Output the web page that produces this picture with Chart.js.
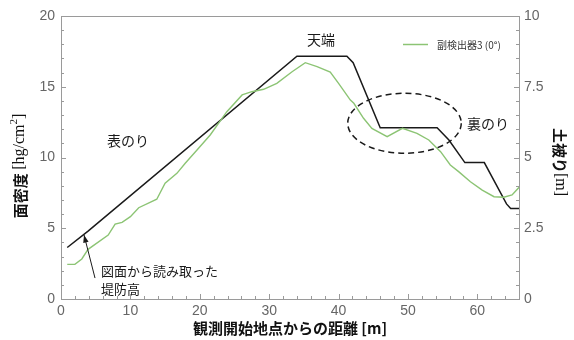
<!DOCTYPE html>
<html>
<head>
<meta charset="utf-8">
<script src="https://cdn.jsdelivr.net/npm/chart.js@4.4.1/dist/chart.umd.min.js"></script>
<style>
    html, body { margin: 0; padding: 0; background: #fff; }
    #chart { display: block; }
</style>
</head>
<body>
<canvas id="chart" width="574" height="340"></canvas>
<script>
// 副検出器3 (0°) : 面密度 [hg/cm2] vs 距離 [m]
const greenDist = [0.9, 2.0, 3.0, 3.9, 6.8, 7.8, 8.8, 10.0, 11.2, 13.8, 15.0, 16.7, 17.9, 19.6, 21.5, 23.9, 26.1, 27.5, 29.2, 31.1, 33.3, 35.2, 36.9, 38.8, 40.0, 41.7, 42.2, 43.6, 44.8, 47.0, 49.2, 51.3, 53.0, 54.7, 56.1, 57.3, 59.0, 60.7, 62.4, 63.8, 65.0, 66.1];
const greenDensity = [2.45, 2.45, 2.83, 3.51, 4.52, 5.30, 5.42, 5.82, 6.45, 7.05, 8.18, 8.88, 9.59, 10.53, 11.59, 13.24, 14.42, 14.65, 14.82, 15.24, 16.06, 16.70, 16.42, 16.04, 15.24, 14.06, 13.83, 12.77, 12.06, 11.47, 12.06, 11.71, 11.24, 10.41, 9.47, 9.00, 8.29, 7.70, 7.23, 7.19, 7.35, 7.94];

// 図面から読み取った堤防高 : 土被り [m]
const dikeDist = [0.9, 3.9, 34.0, 41.2, 42.1, 46.0, 54.2, 55.9, 58.2, 61.0, 64.2, 64.8, 66.1];
const dikeHeight = [1.82, 2.40, 8.58, 8.58, 8.35, 6.05, 6.05, 5.62, 4.82, 4.82, 3.36, 3.20, 3.20];

const xTicks = [0, 10, 20, 30, 40, 50, 60];
const yLeftTicks = [0, 5, 10, 15, 20];
const yRightTicks = [0, 2.5, 5, 7.5, 10];

const AXIS_COLOR = "#9a9a9a";
const TICK_COLOR = "#666";
const GREEN = "#8cc474";
const CJK = '"Noto Sans CJK JP"';

function drawParts(ctx, parts, cx, cy) {
    // draws a run of differently styled text pieces, centred on cx
    let total = 0;
    parts.forEach((p) => {
        ctx.font = p.font;
        p.w = ctx.measureText(p.t).width;
        total += p.w;
    });
    let x = cx - total / 2;
    ctx.textAlign = "left";
    ctx.textBaseline = "middle";
    parts.forEach((p) => {
        ctx.font = p.font;
        ctx.fillText(p.t, x, cy + (p.dy || 0));
        x += p.w;
    });
}

const decorations = {
    id: "decorations",
    afterDraw(chart) {
        const { ctx, chartArea: a, scales } = chart;
        const x = scales.x;
        const y = scales.y;
        const y1 = scales.y1;

        ctx.save();

        // frame top + inward ticks
        ctx.strokeStyle = AXIS_COLOR;
        ctx.lineWidth = 1;
        ctx.beginPath();
        ctx.moveTo(a.left, a.top + 0.5);
        ctx.lineTo(a.right, a.top + 0.5);
        for (let v = 0; v <= 66; v += 2) {
            const px = Math.round(x.getPixelForValue(v)) + 0.5;
            const len = v % 10 === 0 ? 5 : 3;
            ctx.moveTo(px, a.bottom);
            ctx.lineTo(px, a.bottom - len);
        }
        for (let v = 0; v <= 20; v += 1) {
            const py = Math.round(y.getPixelForValue(v)) + 0.5;
            const len = v % 5 === 0 ? 5 : 3;
            ctx.moveTo(a.left, py);
            ctx.lineTo(a.left + len, py);
        }
        for (let v = 0; v <= 10; v += 0.5) {
            const py = Math.round(y1.getPixelForValue(v)) + 0.5;
            const len = v % 2.5 === 0 ? 5 : 3;
            ctx.moveTo(a.right, py);
            ctx.lineTo(a.right - len, py);
        }
        ctx.stroke();

        // dashed ellipse round 裏のり
        const ex = x.getPixelForValue(49.5);
        const ey = y.getPixelForValue(12.42);
        const rx = x.getPixelForValue(49.5 + 8.18) - ex;
        const ry = y.getPixelForValue(12.42) - y.getPixelForValue(12.42 + 2.12);
        ctx.strokeStyle = "#1a1a1a";
        ctx.lineWidth = 1.5;
        ctx.setLineDash([6, 4]);
        ctx.beginPath();
        ctx.ellipse(ex, ey, rx, ry, 0, 0, Math.PI * 2);
        ctx.stroke();
        ctx.setLineDash([]);

        // arrow to the dike line
        const tipX = x.getPixelForValue(3.32);
        const tipY = y.getPixelForValue(4.52);
        const tailX = x.getPixelForValue(4.9);
        const tailY = y.getPixelForValue(1.48);
        ctx.lineWidth = 1;
        ctx.beginPath();
        ctx.moveTo(tailX, tailY);
        ctx.lineTo(tipX, tipY);
        ctx.stroke();
        const ang = Math.atan2(tipY - tailY, tipX - tailX);
        ctx.fillStyle = "#1a1a1a";
        ctx.beginPath();
        ctx.moveTo(tipX, tipY);
        ctx.lineTo(tipX - 8 * Math.cos(ang - 0.35), tipY - 8 * Math.sin(ang - 0.35));
        ctx.lineTo(tipX - 8 * Math.cos(ang + 0.35), tipY - 8 * Math.sin(ang + 0.35));
        ctx.closePath();
        ctx.fill();

        // annotations
        ctx.fillStyle = "#1a1a1a";
        ctx.textBaseline = "middle";
        ctx.textAlign = "left";
        ctx.font = `13px ${CJK}`;
        ctx.fillText("図面から読み取った", 101, 271);
        ctx.fillText("堤防高", 101, 289);

        ctx.font = `14px ${CJK}`;
        ctx.fillText("表のり", 107, 141);
        ctx.fillText("天端", 307, 40);
        ctx.fillText("裏のり", 467, 124);

        // legend
        ctx.strokeStyle = GREEN;
        ctx.lineWidth = 1.5;
        ctx.beginPath();
        ctx.moveTo(403, 44.5);
        ctx.lineTo(428, 44.5);
        ctx.stroke();
        ctx.fillStyle = "#333";
        ctx.font = `10px ${CJK}`;
        ctx.fillText("副検出器3 (0°)", 437, 45);

        // axis titles
        ctx.fillStyle = "#111";
        drawParts(ctx, [
            { t: "観測開始地点からの距離 [m]", font: `bold 15px ${CJK}` },
        ], 290, 328);

        ctx.save();
        ctx.translate(20, 166);
        ctx.rotate(-Math.PI / 2);
        drawParts(ctx, [
            { t: "面密度 ", font: `bold 15px ${CJK}` },
            { t: "[hg/cm", font: '16px "Liberation Serif"' },
            { t: "2", font: '11px "Liberation Serif"', dy: -6 },
            { t: "]", font: '16px "Liberation Serif"' },
        ], 0, 0);
        ctx.restore();

        ctx.save();
        ctx.translate(560, 162);
        ctx.rotate(Math.PI / 2);
        drawParts(ctx, [
            { t: "土被り", font: `bold 15px ${CJK}` },
            { t: "[m]", font: '16px "Liberation Serif"' },
        ], 0, 0);
        ctx.restore();

        ctx.restore();
    },
};

const tickFont = { family: '"Liberation Sans", Arial, sans-serif', size: 14 };

new Chart(document.getElementById("chart"), {
    type: "line",
    data: {
        datasets: [
            {
                label: "副検出器3 (0°)",
                data: greenDist.map((d, i) => ({ x: d, y: greenDensity[i] })),
                borderColor: GREEN,
                borderWidth: 1.4,
                pointRadius: 0,
                tension: 0,
                yAxisID: "y",
            },
            {
                label: "堤防高",
                data: dikeDist.map((d, i) => ({ x: d, y: dikeHeight[i] })),
                borderColor: "#1a1a1a",
                borderWidth: 1.5,
                pointRadius: 0,
                tension: 0,
                yAxisID: "y1",
            },
        ],
    },
    options: {
        responsive: false,
        animation: false,
        devicePixelRatio: 1,
        layout: { padding: { top: 16 } },
        plugins: {
            legend: { display: false },
            tooltip: { enabled: false },
        },
        scales: {
            x: {
                type: "linear",
                min: 0,
                max: 66,
                afterFit(scale) { scale.height = 41; },
                afterBuildTicks(scale) { scale.ticks = xTicks.map((v) => ({ value: v })); },
                ticks: { color: TICK_COLOR, font: tickFont, padding: 4, maxRotation: 0 },
                grid: { display: false, drawTicks: false },
                border: { color: AXIS_COLOR },
            },
            y: {
                position: "left",
                min: 0,
                max: 20,
                afterFit(scale) { scale.width = 61; },
                afterBuildTicks(scale) { scale.ticks = yLeftTicks.map((v) => ({ value: v })); },
                ticks: { color: TICK_COLOR, font: tickFont, padding: 6 },
                grid: { display: false, drawTicks: false },
                border: { color: AXIS_COLOR },
            },
            y1: {
                position: "right",
                min: 0,
                max: 10,
                afterFit(scale) { scale.width = 55; },
                afterBuildTicks(scale) { scale.ticks = yRightTicks.map((v) => ({ value: v })); },
                ticks: { color: TICK_COLOR, font: tickFont, padding: 5, callback: (v) => String(v) },
                grid: { display: false, drawTicks: false },
                border: { color: AXIS_COLOR },
            },
        },
    },
    plugins: [decorations],
});
</script>
</body>
</html>
